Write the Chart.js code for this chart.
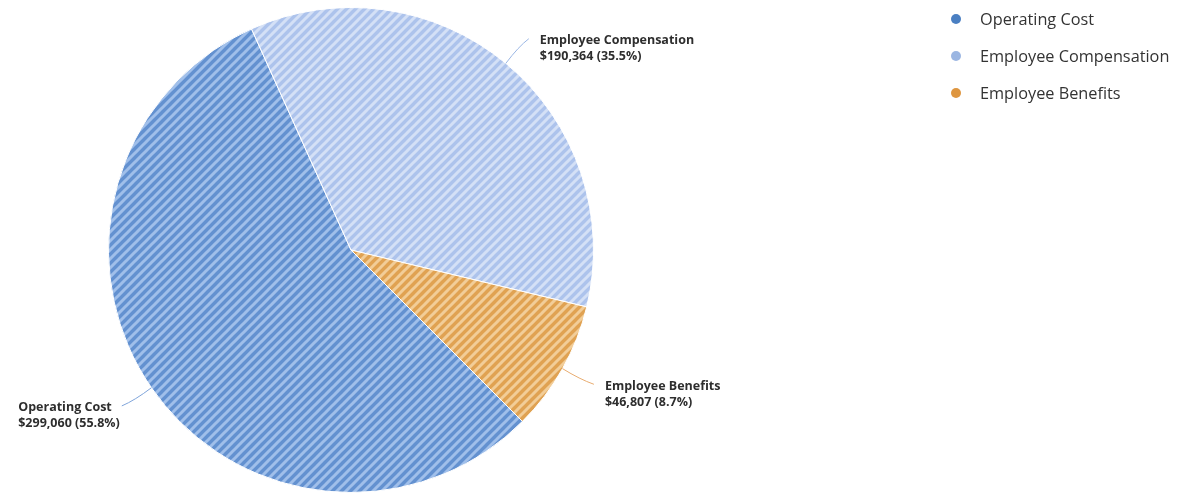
<!DOCTYPE html>
<html>
<head>
<meta charset="utf-8">
<script src="https://cdn.jsdelivr.net/npm/chart.js@4.4.1/dist/chart.umd.min.js"></script>
<style>
  html, body { margin: 0; padding: 0; background: #fff; }
  #wrap { width: 1187px; height: 493px; position: relative; }
</style>
</head>
<body>
<div id="wrap"><canvas id="pie"></canvas></div>
<script>
// Categories and values
const categories = ['Operating Cost', 'Employee Compensation', 'Employee Benefits'];
const amounts = [299060, 190364, 46807];
const percents = ['55.8%', '35.5%', '8.7%'];

const baseColors = ['#6391d0', '#adc3ec', '#e0a252'];
const stripeColors = ['#a0bfea', '#d4e0f6', '#f2cd98'];
const leaderColors = ['#7fa4da', '#9ab6e4', '#e8ac70'];
const legendColors = ['#4a7fc2', '#9bb6e2', '#de9640'];

// Diagonal striped fill
function makeStripes(bg, fg) {
  const size = 9;
  const c = document.createElement('canvas');
  c.width = size; c.height = size;
  const g = c.getContext('2d');
  g.fillStyle = bg;
  g.fillRect(0, 0, size, size);
  g.strokeStyle = fg;
  g.lineWidth = 3;
  g.beginPath();
  g.moveTo(-2, size + 2); g.lineTo(size + 2, -2);
  g.moveTo(-3, 3); g.lineTo(3, -3);
  g.moveTo(size - 3, size + 3); g.lineTo(size + 3, size - 3);
  g.stroke();
  return g.createPattern(c, 'repeat');
}

function money(v) {
  return '$' + v.toLocaleString('en-US');
}

// Outside labels with leader lines
const outsideLabels = {
  id: 'outsideLabels',
  afterDatasetsDraw(chart) {
    const ctx = chart.ctx;
    const meta = chart.getDatasetMeta(0);
    ctx.save();
    ctx.font = 'bold 12.5px "Open Sans"';
    meta.data.forEach((arc, i) => {
      const p = arc.getProps(['x', 'y', 'startAngle', 'endAngle', 'outerRadius'], true);
      const mid = (p.startAngle + p.endAngle) / 2;
      const cos = Math.cos(mid), sin = Math.sin(mid);
      const x0 = p.x + cos * p.outerRadius;
      const y0 = p.y + sin * p.outerRadius;
      const x1 = x0 + cos * 36;
      const y1 = y0 + sin * 32;
      const cx = x0 + cos * 20;
      const cy = y0 + sin * 22;
      ctx.strokeStyle = leaderColors[i];
      ctx.lineWidth = 1;
      ctx.beginPath();
      ctx.moveTo(x0, y0);
      ctx.quadraticCurveTo(cx, cy, x1, y1);
      ctx.stroke();
      const l1 = categories[i];
      const l2 = money(amounts[i]) + ' (' + percents[i] + ')';
      const w = Math.max(ctx.measureText(l1).width, ctx.measureText(l2).width);
      const tx = cos > 0 ? x1 + 11 : x1 - w - 2;
      ctx.fillStyle = '#2e2e2e';
      ctx.textAlign = 'left';
      ctx.textBaseline = 'middle';
      ctx.fillText(l1, tx, y1 + 2);
      ctx.fillText(l2, tx, y1 + 18);
    });
    ctx.restore();
  }
};

// Legend on the right
const sideLegend = {
  id: 'sideLegend',
  afterDraw(chart) {
    const ctx = chart.ctx;
    ctx.save();
    ctx.font = '16.3px "Open Sans"';
    ctx.textBaseline = 'middle';
    categories.forEach((name, i) => {
      const y = 19 + i * 37;
      ctx.fillStyle = legendColors[i];
      ctx.beginPath();
      ctx.arc(956, y, 5, 0, Math.PI * 2);
      ctx.fill();
      ctx.fillStyle = '#333';
      ctx.fillText(name, 980, y + 1);
    });
    ctx.restore();
  }
};

new Chart(document.getElementById('pie'), {
  type: 'pie',
  data: {
    labels: categories,
    datasets: [{
      data: amounts,
      backgroundColor: baseColors.map((c, i) => makeStripes(c, stripeColors[i])),
      borderColor: '#ffffff',
      borderWidth: 1,
      hoverOffset: 0
    }]
  },
  options: {
    responsive: true,
    maintainAspectRatio: false,
    animation: false,
    rotation: 135,
    layout: { padding: { left: 108, right: 593, top: 7, bottom: 0 } },
    plugins: {
      legend: { display: false },
      tooltip: { enabled: false }
    }
  },
  plugins: [outsideLabels, sideLegend]
});
</script>
</body>
</html>
